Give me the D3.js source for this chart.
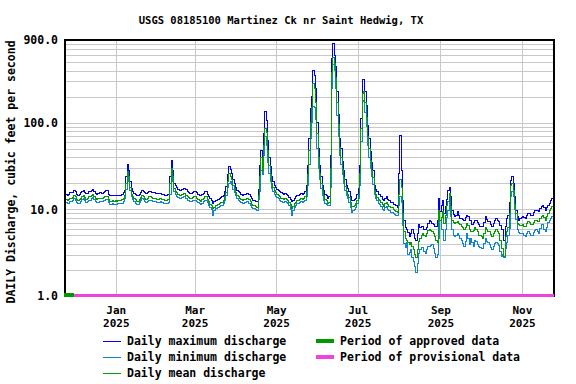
<!DOCTYPE html>
<html>
<head>
<meta charset="utf-8">
<script src="https://cdn.jsdelivr.net/npm/d3@7"></script>
<style>
  body { margin: 0; background: #fff; }
  text { font-family: "DejaVu Sans Mono", monospace; font-weight: bold; fill: #000; }
</style>
</head>
<body>
<div id="chart"></div>
<script>
// daily values, first day is 2024-11-24
const startDay = new Date(2024, 10, 24)
const endDay = new Date(2025, 10, 25)

const maxQ = [
  15.3, 15, 14.6, 14.8, 15.5, 15.5, 15.8, 16.7, 16, 15,
  14.6, 14.8, 15.5, 16.2, 16.7, 15.8, 15.1, 15.4, 16, 16,
  16.5, 17, 16.2, 15.3, 15, 15.2, 15.5, 15.5, 15.3, 15.6,
  16, 16.3, 16.3, 15, 14.3, 14.3, 14.5, 14.3, 14.4, 14.3,
  14.5, 14.6, 14.6, 14.8, 15.5, 16.7, 24, 33, 28.4, 20.8,
  17.4, 16.2, 15.3, 14.8, 14.3, 14.3, 15, 15.8, 16.7, 16.2,
  15.5, 15.1, 15.5, 16, 16, 15.6, 15.5, 15.5, 15.3, 15.1,
  15.1, 15.2, 15.3, 15, 14.8, 14.6, 14.6, 14.8, 15, 24,
  37, 28, 20, 18.6, 17.8, 17, 16.7, 16.5, 17, 17.4,
  17.4, 16.8, 16, 15.6, 15.3, 15.3, 15.6, 16, 16, 15.5,
  15, 14.6, 14.3, 14.8, 15.4, 16, 16, 15, 14, 13.2,
  12.8, 11.8, 12.2, 12.8, 12.8, 13, 13.4, 13.8, 13.9, 14.5,
  16, 18.2, 25, 31.6, 29, 26, 22, 20, 18, 16.5,
  16, 15.5, 15, 14.6, 14.8, 15, 15.3, 15.3, 14.8, 14,
  13.2, 12.8, 12.6, 12.4, 12.2, 17, 32, 48, 35, 76,
  134, 107, 63, 40, 31, 24, 21, 19, 18, 17,
  16.5, 16, 15.5, 15.2, 15, 15.4, 15, 14.5, 13.8, 13,
  12.2, 12.8, 13.5, 14, 14.5, 14.6, 15, 15.4, 15, 15.4,
  16, 19, 32, 66, 147, 200, 400, 350, 250, 100,
  50, 32, 24, 19, 16.5, 15, 14.5, 13.5, 14, 42,
  550, 830, 600, 450, 230, 123, 66, 50, 36, 28,
  22, 19, 17.5, 16, 14, 12.5, 12.8, 13, 13.5, 15,
  17.5, 32, 113, 311, 311, 230, 160, 94, 66, 47,
  35, 28, 19, 17, 16, 15, 14.7, 14, 13, 12.5,
  13.5, 14, 13, 12.5, 12, 12, 11.5, 11.3, 11, 10.5,
  26, 72, 28, 12.8, 7.5, 6.2, 5.8, 5.4, 4.8, 5.2,
  5.8, 5.2, 4.6, 4.4, 5.2, 6.6, 6.2, 6.4, 6.4, 5.8,
  5.8, 6.2, 6.9, 7.5, 7.2, 6.9, 6.6, 6.4, 6.4, 7.5,
  13.5, 9.4, 11, 12.8, 9, 10.7, 13, 16.7, 18, 14,
  9.8, 8.8, 8.2, 8.6, 9.4, 8.6, 7.9, 7.9, 7.6, 7.5,
  8, 8.5, 8.2, 7.5, 7.5, 6.6, 7, 7.5, 7.5, 7,
  6.6, 6.4, 6.3, 6.3, 7, 8.2, 7.6, 7.2, 7.2, 6.7,
  6.3, 6.8, 7.4, 7.9, 7.5, 7.2, 6.5, 5.8, 5.8, 4.4,
  6.3, 7.9, 8.5, 12, 21.7, 23.7, 19.9, 14, 9.8, 8.2,
  7.5, 7.8, 8, 8.2, 8, 7.9, 8.4, 9, 9, 8.6,
  8.6, 9.2, 9.6, 9.8, 9.6, 9.4, 10.2, 10.8, 11.2, 10.5,
  9.8, 10.5, 11.2, 11.7, 12.5, 13.4
]

const meanQ = [
  13.3, 13, 12.7, 12.9, 13.5, 13.5, 13.8, 14.5, 14, 13,
  12.7, 12.9, 13.5, 14.1, 14.5, 13.8, 13.1, 13.4, 13.9, 13.9,
  14.3, 14.8, 14.1, 13.3, 13, 13.2, 13.5, 13.5, 13.3, 13.6,
  13.9, 14.2, 14.2, 13, 12.4, 12.4, 12.6, 12.4, 12.5, 12.4,
  12.6, 12.7, 12.7, 12.9, 13.5, 14.5, 20, 27, 24, 18,
  15, 14, 13.3, 12.9, 12.4, 12.4, 13, 13.7, 14.5, 14.1,
  13.5, 13.1, 13.5, 13.9, 13.9, 13.6, 13.5, 13.5, 13.3, 13.1,
  13.1, 13.2, 13.3, 13, 12.9, 12.7, 12.7, 12.9, 13, 20,
  30, 24, 17.5, 16.2, 15.5, 14.8, 14.5, 14.3, 14.8, 15.1,
  15.1, 14.6, 13.9, 13.6, 13.3, 13.3, 13.6, 13.9, 13.9, 13.5,
  13, 12.7, 12.4, 12.9, 13.4, 13.9, 13.9, 13, 12.2, 11.5,
  11, 10.3, 10.6, 11.1, 11.1, 11.3, 11.6, 12, 12.1, 12.6,
  13.9, 15.8, 21, 26, 24, 22, 19, 17.4, 15.7, 14.4,
  13.9, 13.5, 13, 12.7, 12.9, 13, 13.3, 13.3, 12.9, 12.2,
  11.5, 11.1, 11, 10.8, 10.6, 14.5, 24, 40, 28, 55,
  86, 78, 48, 32, 25, 20, 18, 16.5, 15.6, 14.8,
  14.4, 13.9, 13.5, 13.2, 13, 13.4, 13, 12.6, 12, 11.3,
  10.2, 10.9, 11.6, 12.1, 12.6, 12.7, 13, 13.4, 13, 13.4,
  14, 16, 25, 48, 100, 150, 280, 250, 170, 75,
  40, 26, 20, 16.5, 14.3, 13, 12.6, 11.8, 12, 30,
  380, 560, 480, 330, 170, 95, 52, 40, 29, 23,
  18.5, 16, 14.8, 13.6, 12, 10.7, 10.9, 11.1, 11.6, 12.8,
  15, 26, 85, 220, 230, 170, 115, 70, 50, 37,
  28, 23, 16.5, 14.7, 13.8, 13, 12.7, 12.1, 11.3, 10.9,
  11.7, 12.1, 11.3, 10.9, 10.4, 10.4, 10, 9.8, 9.5, 9.1,
  15, 22, 18, 9, 5.5, 4.6, 4.4, 4.1, 3.9, 4.1,
  3.7, 3.4, 3.0, 2.8, 3.4, 4.2, 4.6, 5, 5.3, 5,
  4.8, 5.2, 5.7, 5.8, 5.7, 5.6, 5.2, 4.8, 4.4, 4.1,
  9.8, 7.5, 8, 9.4, 6.9, 8.5, 11, 12.2, 15.4, 10.7,
  7.5, 7, 6.9, 7, 7.2, 6.9, 6.6, 6.4, 6.1, 5.8,
  6.2, 6.9, 6.5, 5.8, 5.6, 5.5, 5.7, 6.1, 5.9, 5.5,
  5, 5, 4.8, 4.6, 5.2, 6.1, 5.8, 5.5, 5.5, 5.1,
  4.8, 5.2, 5.6, 5.8, 5.5, 5.2, 4.4, 3.55, 3.55, 2.85,
  4.8, 5.5, 6.2, 9, 19, 20, 16.7, 11.5, 8.9, 6.8,
  6.6, 6.5, 6.5, 6.6, 6.4, 6.3, 6.8, 7.2, 7, 6.6,
  6.6, 7, 7.4, 7.5, 7.3, 7.2, 7.8, 8.3, 8.6, 8,
  7.5, 8.2, 9, 9.8, 10.2, 10.7
]

const minQ = [
  12.2, 12, 11.7, 11.8, 12.4, 12.4, 12.6, 13.3, 12.8, 12,
  11.7, 11.8, 12.4, 12.9, 13.3, 12.6, 12, 12.3, 12.8, 12.8,
  13.2, 13.6, 13, 12.2, 12, 12.1, 12.4, 12.4, 12.2, 12.5,
  12.8, 13, 13, 12, 11.4, 11.4, 11.6, 11.4, 11.5, 11.4,
  11.6, 11.7, 11.7, 11.8, 12.4, 13.3, 17, 25, 21, 16.5,
  13.9, 13, 12.2, 11.8, 11.4, 11.4, 12, 12.6, 13.3, 13,
  12.4, 12, 12.4, 12.8, 12.8, 12.5, 12.4, 12.4, 12.2, 12,
  12, 12.1, 12.2, 12, 11.8, 11.7, 11.7, 11.8, 12, 15,
  27, 21, 16, 14.9, 14.2, 13.6, 13.4, 13.2, 13.6, 13.9,
  13.9, 13.4, 12.8, 12.5, 12.2, 12.2, 12.5, 12.8, 12.8, 12.4,
  12, 11.7, 11.4, 11.8, 12.3, 12.8, 12.8, 12, 11.2, 10.5,
  10, 8.4, 9.6, 10.2, 10.2, 10.4, 10.7, 11, 11.1, 11.6,
  12.8, 14.5, 18, 20, 21, 19.5, 17, 15.6, 14.4, 13.2,
  12.8, 12.4, 12, 11.7, 11.8, 12, 12.2, 12.2, 11.8, 11.2,
  10.6, 10.2, 10.1, 9.9, 9.8, 13, 16, 28, 25, 42,
  69, 55, 35, 26, 21, 17.5, 16, 15, 14.2, 13.6,
  13.2, 12.8, 12.4, 12.1, 12, 12.3, 12, 11.6, 11, 10,
  8.6, 9.6, 10.4, 11.1, 11.6, 11.7, 12, 12.3, 12, 12.3,
  12.8, 14, 19, 33, 65, 100, 155, 150, 110, 50,
  30, 22, 17.5, 14.5, 12.8, 11.8, 11.4, 11, 11.2, 18,
  250, 465, 400, 250, 120, 70, 42, 33, 25, 20,
  16.5, 14.5, 13.3, 12, 10.6, 9.2, 9.6, 10, 10.6, 11.6,
  13.5, 19, 60, 177, 180, 130, 90, 55, 40, 30,
  24, 19.5, 15, 13.4, 12.5, 11.8, 11.4, 10.8, 10, 9.6,
  10.4, 10.8, 10, 9.6, 9.2, 9.3, 9, 8.8, 8.6, 8.4,
  11, 14, 12, 6.5, 4, 3.6, 4.1, 3, 3.2, 3.4,
  2.8, 2.5, 2.2, 1.86, 2.4, 3.1, 3.4, 3.6, 3.6, 3.3,
  3.1, 3.4, 3.7, 3.7, 3.8, 3.9, 3.5, 3.1, 2.8, 3,
  4.6, 7.5, 5.8, 5.8, 4.4, 5.8, 8, 9.8, 12.2, 8.2,
  5.8, 5, 4.8, 5, 5.3, 5, 4.6, 4.4, 4, 3.7,
  4.2, 5.3, 4.6, 3.9, 4.6, 4.1, 3.7, 4.4, 4.2, 3.9,
  3.7, 3.6, 3.55, 3.55, 4, 4.6, 4.3, 4.1, 3.9, 3.6,
  3.4, 3.7, 4, 4.1, 4, 3.8, 3.3, 2.85, 3, 2.8,
  3.55, 4.1, 5, 6, 14, 16, 14, 10, 7.6, 5.8,
  5.4, 5.3, 5.3, 5.3, 5, 4.8, 5.2, 5.5, 5.3, 5,
  5, 5.4, 5.7, 5.8, 5.5, 5.2, 6, 6.6, 6.6, 5.8,
  5.5, 6.2, 7, 7.5, 7.9, 8.2
]

const yTicks = [1, 10, 100, 900]
const monthTicks = [new Date(2025, 0, 1), new Date(2025, 2, 1), new Date(2025, 4, 1),
  new Date(2025, 6, 1), new Date(2025, 8, 1), new Date(2025, 10, 1)]
const periods = [
  { name: 'Period of approved data', from: new Date(2024, 10, 24), to: new Date(2024, 11, 1), color: '#009900', w: 4 },
  { name: 'Period of provisional data', from: new Date(2024, 11, 1), to: new Date(2025, 10, 25), color: '#ee44dd', w: 3 }
]
const seriesNames = ['Daily maximum discharge', 'Daily minimum discharge', 'Daily mean discharge']
const seriesColors = ['#0000ee', '#0e84d4', '#009c00']

const width = 576,
  height = 384,
  plotL = 65, plotR = 554, plotT = 40, plotB = 296

let svg = d3.select('#chart').append('svg')
  .attr('width', width)
  .attr('height', height)

let x = d3.scaleTime().domain([startDay, endDay]).range([plotL, plotR])
let y = d3.scaleLog().domain([1, 900]).range([plotB, plotT])

// grid
let gridVals = []
for (let dec = 1; dec <= 100; dec *= 10) {
  for (let k = 1; k <= 9; k++) gridVals.push(k * dec)
}
svg.append('g')
  .attr('transform', `translate(${plotL},0)`)
  .call(d3.axisLeft(y).tickValues(gridVals).tickSize(-(plotR - plotL)).tickFormat(''))
  .call(g => g.select('.domain').remove())
  .call(g => g.selectAll('line').attr('stroke', '#c8c8c8').attr('shape-rendering', 'crispEdges'))
svg.append('g')
  .attr('transform', `translate(0,${plotT})`)
  .call(d3.axisBottom(x).tickValues(monthTicks).tickSize(plotB - plotT).tickFormat(''))
  .call(g => g.select('.domain').remove())
  .call(g => g.selectAll('line').attr('stroke', '#c8c8c8').attr('shape-rendering', 'crispEdges'))

// lines
let day = i => d3.timeDay.offset(startDay, i)
let line = d3.line()
  .x((d, i) => x(day(i)))
  .y(d => y(d))
  .curve(d3.curveStep)

let seriesData = [maxQ, minQ, meanQ]
;[1, 0, 2].forEach(k => {
  svg.append('path')
    .datum(seriesData[k])
    .attr('fill', 'none')
    .attr('stroke', seriesColors[k])
    .attr('stroke-width', 1)
    .attr('shape-rendering', 'crispEdges')
    .attr('d', line)
})

// frame
svg.append('rect')
  .attr('x', plotL).attr('y', plotT)
  .attr('width', plotR - plotL).attr('height', plotB - plotT)
  .attr('fill', 'none').attr('stroke', '#000').attr('stroke-width', 1.5)
  .attr('shape-rendering', 'crispEdges')

// data status bar
svg.selectAll('.period')
  .data(periods)
  .enter().append('line')
  .attr('x1', d => x(d.from) - (d.w > 3 ? 1 : 0))
  .attr('x2', d => x(d.to))
  .attr('y1', plotB - 1).attr('y2', plotB - 1)
  .attr('stroke', d => d.color)
  .attr('stroke-width', d => d.w)
  .attr('shape-rendering', 'crispEdges')

// axes labels
svg.append('g')
  .attr('transform', `translate(${plotL - 7},0)`)
  .call(d3.axisLeft(y).tickValues(yTicks).tickSize(0).tickFormat(d3.format('.1f')))
  .call(g => g.select('.domain').remove())
  .call(g => g.selectAll('text')
    .attr('x', 0)
    .style('font-family', '"DejaVu Sans Mono", monospace')
    .style('font-weight', 'bold')
    .style('font-size', '11.5px')
    .attr('fill', '#000'))

let xAxis = svg.append('g')
  .attr('transform', `translate(0,${plotB})`)
  .call(d3.axisBottom(x).tickValues(monthTicks).tickSize(0).tickFormat(''))
xAxis.select('.domain').remove()
xAxis.selectAll('.tick').each(function (d) {
  let g = d3.select(this)
  g.append('text')
    .attr('text-anchor', 'middle').attr('y', 18)
    .style('font-size', '11px')
    .text(d3.timeFormat('%b')(d))
  g.append('text')
    .attr('text-anchor', 'middle').attr('y', 31)
    .style('font-size', '11px')
    .text(d3.timeFormat('%Y')(d))
})

// titles
svg.append('text')
  .attr('x', 281).attr('y', 24)
  .attr('text-anchor', 'middle')
  .style('font-size', '10.5px')
  .text('USGS 08185100 Martinez Ck nr Saint Hedwig, TX')

svg.append('text')
  .attr('transform', 'translate(15,172) rotate(-90)')
  .attr('text-anchor', 'middle')
  .style('font-size', '11.5px')
  .text('DAILY Discharge, cubic feet per second')

// legend
let leg = svg.append('g')
seriesNames.forEach((n, i) => {
  let yy = 341 + i * 16
  leg.append('rect').attr('x', 103).attr('y', yy).attr('width', 18).attr('height', 1)
    .attr('fill', seriesColors[i])
  leg.append('text').attr('x', 127).attr('y', yy + 4).style('font-size', '11.5px').text(n)
})
periods.forEach((p, i) => {
  let yy = 341 + i * 16
  leg.append('rect').attr('x', 316).attr('y', yy - 2).attr('width', 18).attr('height', 4)
    .attr('fill', p.color)
  leg.append('text').attr('x', 340).attr('y', yy + 4).style('font-size', '11.5px').text(p.name)
})
</script>
</body>
</html>
